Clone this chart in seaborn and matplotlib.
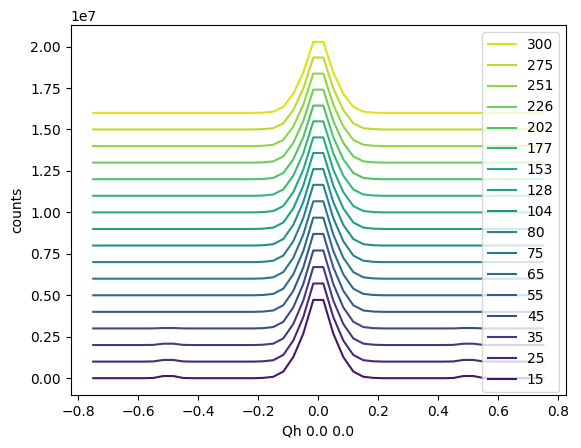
import numpy as np
import pandas as pd
import matplotlib
matplotlib.use("Agg")
import matplotlib.pyplot as plt
import seaborn as sns

# temperatures (legend labels)
temps = [15, 25, 35, 45, 55, 65, 75, 80, 104, 128, 153, 177, 202, 226, 251, 275, 300]

# peak height above each curve's own baseline, counts
peak_height = [4.72e6, 4.71e6, 4.70e6, 4.70e6, 4.70e6, 4.68e6, 4.67e6, 4.66e6, 4.61e6,
               4.58e6, 4.52e6, 4.49e6, 4.44e6, 4.40e6, 4.37e6, 4.34e6, 4.28e6]

# small side bumps near Qh = +-0.5 (only low T)
bump_height = [1.3e5, 1.0e5, 0.8e5, 0.25e5, 0, 0, 0, 0, 0, 0, 0, 0, 0, 0, 0, 0, 0]

# waterfall offset between curves
offset_step = 1e6

# Qh grid, 46 points
qh = np.linspace(-0.75, 0.75, 46)

# peak shape (fraction of peak height)
peak_shape = [0, 0, 0, 0, 0, 0, 0, 0, 0, 0,
              0, 0, 0, 0, 0, 0, 0, 0.004, 0.018, 0.085,
              0.27, 0.57, 1.0, 1.0, 0.57, 0.27, 0.085, 0.018, 0.004, 0,
              0, 0, 0, 0, 0, 0, 0, 0, 0, 0,
              0, 0, 0, 0, 0, 0]

# bump shape around +-0.5
bump_shape = [0, 0, 0, 0, 0, 0, 0.1, 1.0, 1.0, 0.1,
              0, 0, 0, 0, 0, 0, 0, 0, 0, 0,
              0, 0, 0, 0, 0, 0, 0, 0, 0, 0,
              0, 0, 0, 0, 0, 0, 0.1, 1.0, 1.0, 0.1,
              0, 0, 0, 0, 0, 0]

# build long table
rows = []
for n, t in enumerate(temps):
    for j, q in enumerate(qh):
        c = n * offset_step + peak_height[n] * peak_shape[j] + bump_height[n] * bump_shape[j]
        rows.append({"Qh": q, "counts": c, "T": str(t)})
df = pd.DataFrame(rows)

labels = [str(t) for t in temps]
colors = sns.color_palette("viridis", len(temps))

fig, ax = plt.subplots(figsize=(5.81, 4.48), dpi=100)
fig.subplots_adjust(left=0.1217, right=0.974, bottom=0.1183, top=0.944)

sns.lineplot(data=df, x="Qh", y="counts", hue="T", hue_order=labels,
             palette=colors, ax=ax, linewidth=1.5)

# legend: highest temperature on top
handles, lbls = ax.get_legend_handles_labels()
ax.legend(handles[::-1], lbls[::-1], loc="upper right")

ax.set_xlabel("Qh 0.0 0.0")
ax.set_ylabel("counts")

fig.savefig("out.png", dpi=100)
